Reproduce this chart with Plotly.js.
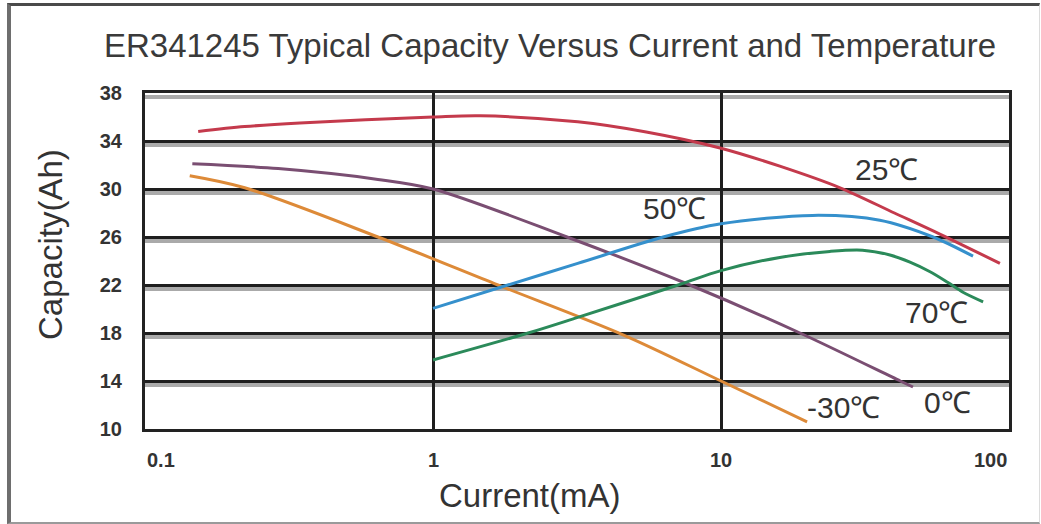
<!DOCTYPE html>
<html>
<head>
<meta charset="utf-8">
<script src="https://cdn.plot.ly/plotly-3.0.1.min.js"></script>
<style>
  html, body { margin: 0; padding: 0; background: #fff; }
  #wrap { position: relative; width: 1041px; height: 524px; overflow: hidden; }
  #chart { position: absolute; left: 0; top: 0; width: 1041px; height: 524px; }
  #frame { position: absolute; left: 7px; top: 3px; width: 1028px; height: 516px;
           border-left: 4px solid #6e6e6e; border-top: 3px solid #4a4a4a;
           border-right: 1px solid #dcdcdc; border-bottom: 2px solid #9a9a9a;
           pointer-events: none; }
</style>
</head>
<body>
<div id="wrap">
  <div id="chart"></div>
  <div id="frame"></div>
</div>
<script>
// ---- Data (current in mA, capacity in Ah) ----
const x25 = [0.153, 0.222, 0.345, 1.0, 1.46, 3.18, 5.5, 10, 16, 25.9, 40, 58, 93];
const y25 = [34.8, 35.2, 35.5, 36.0, 36.1, 35.6, 34.75, 33.4, 31.9, 30.1, 28.0, 26.2, 23.8];

const x0 = [0.146, 0.29, 0.644, 1.0, 2.92, 7.8, 18.8, 41.9, 46.4];
const y0 = [32.1, 31.7, 30.8, 30.0, 26.0, 22.0, 18.0, 14.0, 13.5];

const xm30 = [0.143, 0.222, 0.644, 1.68, 4.57, 10, 19.9];
const ym30 = [31.1, 30.1, 26.0, 22.0, 17.85, 14.0, 10.6];

const x50 = [1.0, 1.82, 3.18, 6.3, 10, 20.8, 35.6, 54.5, 75];
const y50 = [20.05, 22.0, 23.8, 26.0, 27.1, 27.8, 27.4, 26.0, 24.4];

const x70 = [1.0, 2.14, 3.18, 7.1, 10, 16, 23.9, 31, 38.6, 45.3, 53.2, 61.4, 69.2, 81.3];
const y70 = [15.75, 18.0, 19.3, 22.0, 23.2, 24.3, 24.8, 24.9, 24.5, 23.9, 23.1, 22.2, 21.4, 20.6];

const seriesNames = ['25℃', '0℃', '-30℃', '50℃', '70℃'];
const labelX = [37.7, 61, 26.7, 6.92, 55.8];
const labelY = [31.6, 12.25, 11.8, 28.4, 19.75];

const xTickVals = [0.1, 1, 10, 100];
const xTickText = ['0.1', '1', '10', '100'];
const yTickVals = [10, 14, 18, 22, 26, 30, 34, 38];

const titleText = 'ER341245 Typical Capacity Versus Current and Temperature';
const xTitle = 'Current(mA)';
const yTitle = 'Capacity(Ah)';

// ---- Styles ----
const colors = ['#c43a4c', '#7a4e72', '#dd8a38', '#3590cc', '#2b8a5a'];
const FONT = 'Liberation Sans, Arial, sans-serif';

const xs = [x25, x0, xm30, x50, x70];
const ys = [y25, y0, ym30, y50, y70];

const traces = xs.map((xv, i) => ({
  type: 'scatter', mode: 'lines', x: xv, y: ys[i], name: seriesNames[i],
  line: { color: colors[i], width: 3, shape: 'spline', smoothing: 0.9 },
  hoverinfo: 'skip'
}));

const annotations = [];
seriesNames.forEach((n, i) => {
  annotations.push({
    text: n, x: Math.log10(labelX[i]), y: labelY[i], xref: 'x', yref: 'y',
    showarrow: false, xanchor: 'center', yanchor: 'middle',
    font: { family: FONT, size: 30, color: '#333' }
  });
});
xTickVals.forEach((v, i) => {
  annotations.push({
    text: xTickText[i], x: Math.log10(v), y: 0, xref: 'x', yref: 'paper',
    showarrow: false,
    xanchor: i === 0 ? 'left' : (i === xTickVals.length - 1 ? 'right' : 'center'),
    yanchor: 'middle', yshift: -31,
    font: { family: FONT, size: 20, color: '#333', weight: 'bold' }
  });
});
annotations.push({
  text: xTitle, x: (530 - 145) / 864, y: (429 - 495) / 336, xref: 'paper', yref: 'paper',
  showarrow: false, xanchor: 'center', yanchor: 'middle',
  font: { family: FONT, size: 33, color: '#333' }
});
annotations.push({
  text: yTitle, x: (51 - 145) / 864, y: (429 - 245) / 336, xref: 'paper', yref: 'paper',
  showarrow: false, xanchor: 'center', yanchor: 'middle', textangle: -90,
  font: { family: FONT, size: 33, color: '#333' }
});

const shapes = yTickVals.map(v => ({
  type: 'line', xref: 'paper', x0: 0, x1: 1, yref: 'y', ysizemode: 'pixel',
  yanchor: v, y0: -4, y1: -4, layer: 'below',
  line: { color: '#aaaaaa', width: 4 }
}));

const layout = {
  width: 1041, height: 524,
  margin: { l: 145, r: 32, t: 93, b: 95 },
  paper_bgcolor: '#ffffff', plot_bgcolor: '#ffffff',
  showlegend: false,
  title: {
    text: titleText, xref: 'container', yref: 'container',
    x: 550 / 1041, y: 1 - 45 / 524, xanchor: 'center', yanchor: 'middle',
    font: { family: FONT, size: 33, color: '#3a3a3a' }
  },
  xaxis: {
    type: 'log', range: [-1, 2], tickvals: xTickVals, ticktext: xTickText,
    showticklabels: false, ticks: '',
    showgrid: true, gridcolor: '#1e1e1e', gridwidth: 3,
    showline: true, mirror: true, linecolor: '#222', linewidth: 3,
    zeroline: false, fixedrange: true
  },
  yaxis: {
    range: [10, 38], tickvals: yTickVals, ticks: '',
    ticklabelstandoff: 16,
    tickfont: { family: FONT, size: 20, color: '#333', weight: 'bold' },
    showgrid: true, gridcolor: '#1e1e1e', gridwidth: 3,
    showline: true, mirror: true, linecolor: '#222', linewidth: 3,
    zeroline: false, fixedrange: true
  },
  annotations: annotations,
  shapes: shapes
};

Plotly.newPlot('chart', traces, layout, { displayModeBar: false, staticPlot: true });
</script>
</body>
</html>
